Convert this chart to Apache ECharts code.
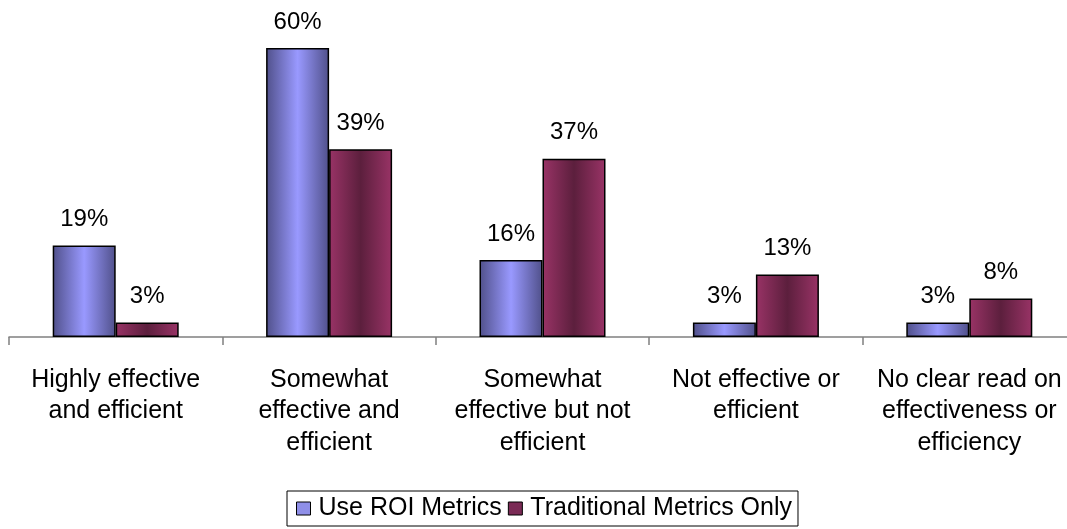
<!DOCTYPE html>
<html>
<head>
<meta charset="utf-8">
<script src="https://cdn.jsdelivr.net/npm/echarts@6/dist/echarts.min.js"></script>
<style>
  html, body { margin: 0; padding: 0; background: #fff; }
  #chart { width: 1067px; height: 529px; }
</style>
</head>
<body>
<div id="chart"></div>
<script>
const categories = [
    'Highly effective\nand efficient',
    'Somewhat\neffective and\nefficient',
    'Somewhat\neffective but not\nefficient',
    'Not effective or\nefficient',
    'No clear read on\neffectiveness or\nefficiency'
];
const roiValues = [19, 60, 16, 3, 3];
const traditionalValues = [3, 39, 37, 13, 8];

function grad(edge, mid) {
    return new echarts.graphic.LinearGradient(0, 0, 1, 0, [
        { offset: 0, color: edge },
        { offset: 0.5, color: mid },
        { offset: 1, color: edge }
    ]);
}

let chart = echarts.init(document.getElementById('chart'));

let labelStyle = {
    show: true,
    position: 'top',
    distance: 14,
    formatter: '{c}%',
    fontFamily: 'Liberation Sans, Arial',
    fontSize: 24,
    color: '#000'
};

let option = {
    animation: false,
    grid: {
        left: 9,
        top: 48,
        right: -9,
        bottom: 192,
        outerBoundsMode: 'none'
    },
    legend: {
        bottom: 3,
        left: 287,
        itemWidth: 14,
        itemHeight: 13,
        itemGap: 6,
        padding: [5, 6, 5, 9],
        borderColor: '#000',
        borderWidth: 1,
        borderRadius: 0,
        textStyle: {
            fontFamily: 'Liberation Sans, Arial',
            fontSize: 25,
            color: '#000',
            padding: [0, 0, 0, 3]
        },
        data: [
            { name: 'Use ROI Metrics', icon: 'rect', itemStyle: { color: '#8f8fe8', borderColor: '#000', borderWidth: 1 } },
            { name: 'Traditional Metrics Only', icon: 'rect', itemStyle: { color: '#7a2a55', borderColor: '#000', borderWidth: 1 } }
        ]
    },
    xAxis: {
        type: 'category',
        data: categories,
        axisLine: { lineStyle: { color: '#808080', width: 1.5 } },
        axisTick: { show: true, length: 8, lineStyle: { color: '#808080', width: 1.5 } },
        axisLabel: {
            margin: 27,
            lineHeight: 31.5,
            fontFamily: 'Liberation Sans, Arial',
            fontSize: 25,
            color: '#000',
            interval: 0
        }
    },
    yAxis: {
        type: 'value',
        min: 0,
        max: 60,
        show: false
    },
    series: [
        {
            name: 'Use ROI Metrics',
            type: 'bar',
            data: roiValues,
            barWidth: 63,
            barGap: '0%',
            itemStyle: {
                color: grad('#50508a', '#9999ff'),
                borderColor: '#000',
                borderWidth: 1.5
            },
            label: labelStyle
        },
        {
            name: 'Traditional Metrics Only',
            type: 'bar',
            data: traditionalValues,
            barWidth: 63,
            itemStyle: {
                color: grad('#993366', '#5c1f3d'),
                borderColor: '#000',
                borderWidth: 1.5
            },
            label: labelStyle
        }
    ]
};

chart.setOption(option);
</script>
</body>
</html>
